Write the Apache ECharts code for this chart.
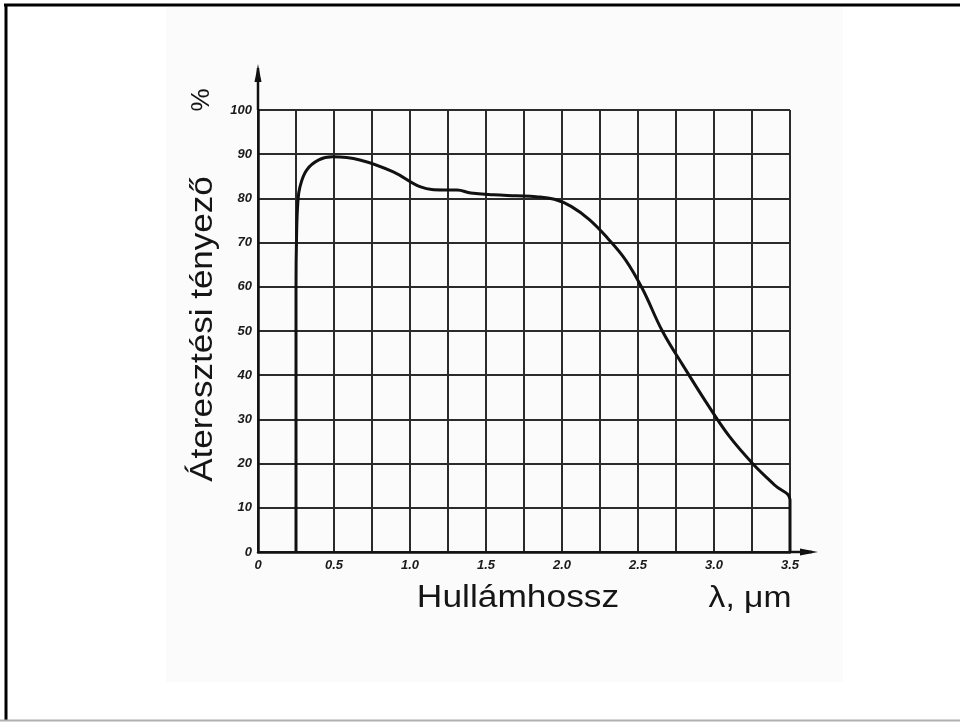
<!DOCTYPE html>
<html>
<head>
<meta charset="utf-8">
<title>Áteresztési tényező</title>
<script src="https://cdn.jsdelivr.net/npm/echarts@6/dist/echarts.min.js"></script>
<style>
  html, body { margin: 0; padding: 0; background: #ffffff; }
  #chart { width: 960px; height: 722px; }
</style>
</head>
<body>
<div id="chart"></div>
<script>
// Transmission curve: wavelength (µm) against transmission factor (%)
const wavelength = [0.25, 0.25, 0.254, 0.262, 0.276, 0.32, 0.40, 0.49, 0.67, 0.89, 1.07, 1.22, 1.31, 1.40, 1.55, 1.70, 1.83, 1.95, 2.06, 2.18, 2.30, 2.42, 2.53, 2.66, 2.80, 2.95, 3.10, 3.26, 3.40, 3.5, 3.5];
const transmission = [0, 60, 72, 79, 82.6, 86.4, 88.7, 89.4, 88.7, 86.0, 82.6, 81.9, 81.9, 81.2, 80.8, 80.6, 80.4, 79.8, 78.2, 75.2, 71.0, 66.0, 59.5, 50.0, 42.0, 33.8, 26.2, 19.8, 15.1, 11.8, 0];

const xTickLabels = ['0', '0.5', '1.0', '1.5', '2.0', '2.5', '3.0', '3.5'];
const yTickLabels = ['0', '10', '20', '30', '40', '50', '60', '70', '80', '90', '100'];

const yTitle = 'Áteresztési tényező';
const yUnit = '%';
const xTitle = 'Hullámhossz';
const xUnit = 'λ, μm';

const curveData = wavelength.map((x, i) => [x, transmission[i]]);

const chart = echarts.init(document.getElementById('chart'), null, { renderer: 'canvas' });

const gridColor = '#2b2b2b';
const labelFont = { fontFamily: 'Liberation Sans', fontStyle: 'italic', fontWeight: 'bold', fontSize: 13, color: '#1a1a1a' };

chart.setOption({
  backgroundColor: '#ffffff',
  animation: false,
  grid: { left: 258, top: 110, width: 532, height: 442, containLabel: false },
  xAxis: {
    type: 'value', min: 0, max: 3.5, interval: 0.25,
    axisLine: { show: true, lineStyle: { color: '#111', width: 2.5 } },
    axisTick: { show: false },
    splitLine: { show: true, lineStyle: { color: gridColor, width: 2 } },
    axisLabel: Object.assign({
      margin: 7,
      formatter: function (v) {
        const k = Math.round(v * 2);
        return Math.abs(v * 2 - k) < 1e-6 ? xTickLabels[k] : '';
      }
    }, labelFont)
  },
  yAxis: {
    type: 'value', min: 0, max: 100, interval: 10,
    axisLine: { show: true, lineStyle: { color: '#111', width: 2.5 } },
    axisTick: { show: false },
    splitLine: { show: true, lineStyle: { color: gridColor, width: 2 } },
    axisLabel: Object.assign({
      margin: 6,
      formatter: function (v) { return yTickLabels[Math.round(v / 10)]; }
    }, labelFont)
  },
  series: [{
    type: 'line',
    data: curveData,
    smooth: 0.4,
    showSymbol: false,
    lineStyle: { color: '#111', width: 3 },
    z: 5
  }]
});

// Axis arrows, frame and titles, placed from the axis scales
const origin = chart.convertToPixel({ gridIndex: 0 }, [0, 0]);
const xEnd = chart.convertToPixel({ gridIndex: 0 }, [3.5, 0]);
const yTop = chart.convertToPixel({ gridIndex: 0 }, [0, 100]);

const titleFont = 'Liberation Sans, Arial, sans-serif';

chart.setOption({
  graphic: [
    // soft paper background of the scanned sheet
    { type: 'rect', z: -10, silent: true,
      shape: { x: 166, y: 7, width: 677, height: 675 },
      style: { fill: '#fbfbfb' } },
    // outer frame
    { type: 'line', z: 100, shape: { x1: 4, y1: 5, x2: 960, y2: 5 }, style: { stroke: '#000', lineWidth: 3 } },
    { type: 'line', z: 100, shape: { x1: 6, y1: 4, x2: 6, y2: 721 }, style: { stroke: '#000', lineWidth: 3 } },
    { type: 'line', z: 100, shape: { x1: 0, y1: 720.5, x2: 960, y2: 720.5 }, style: { stroke: '#b0b0b0', lineWidth: 2 } },
    // y axis extension with arrow
    { type: 'line', z: 50, shape: { x1: origin[0], y1: yTop[1], x2: origin[0], y2: 68 }, style: { stroke: '#111', lineWidth: 2.5 } },
    { type: 'polygon', z: 50, shape: { points: [[origin[0], 64], [origin[0] - 3.5, 82], [origin[0] + 3.5, 82]] }, style: { fill: '#111' } },
    // x axis extension with arrow
    { type: 'line', z: 50, shape: { x1: xEnd[0], y1: origin[1], x2: 812, y2: origin[1] }, style: { stroke: '#111', lineWidth: 2.5 } },
    { type: 'polygon', z: 50, shape: { points: [[818, origin[1]], [800, origin[1] - 3.5], [800, origin[1] + 3.5]] }, style: { fill: '#111' } },
    // axis titles
    { type: 'text', z: 60, x: 203, y: 329, rotation: Math.PI / 2, scaleX: 1.13,
      style: { text: yTitle, font: '31px ' + titleFont, fill: '#151515', align: 'center', verticalAlign: 'middle' } },
    { type: 'text', z: 60, x: 202, y: 100, rotation: Math.PI / 2,
      style: { text: yUnit, font: '26px ' + titleFont, fill: '#151515', align: 'center', verticalAlign: 'middle' } },
    { type: 'text', z: 60, x: 518, y: 598, scaleX: 1.14,
      style: { text: xTitle, font: '31px ' + titleFont, fill: '#151515', align: 'center', verticalAlign: 'middle' } },
    { type: 'text', z: 60, x: 750, y: 599, scaleX: 1.12,
      style: { text: xUnit, font: '30px ' + titleFont, fill: '#151515', align: 'center', verticalAlign: 'middle' } }
  ]
});
</script>
</body>
</html>
